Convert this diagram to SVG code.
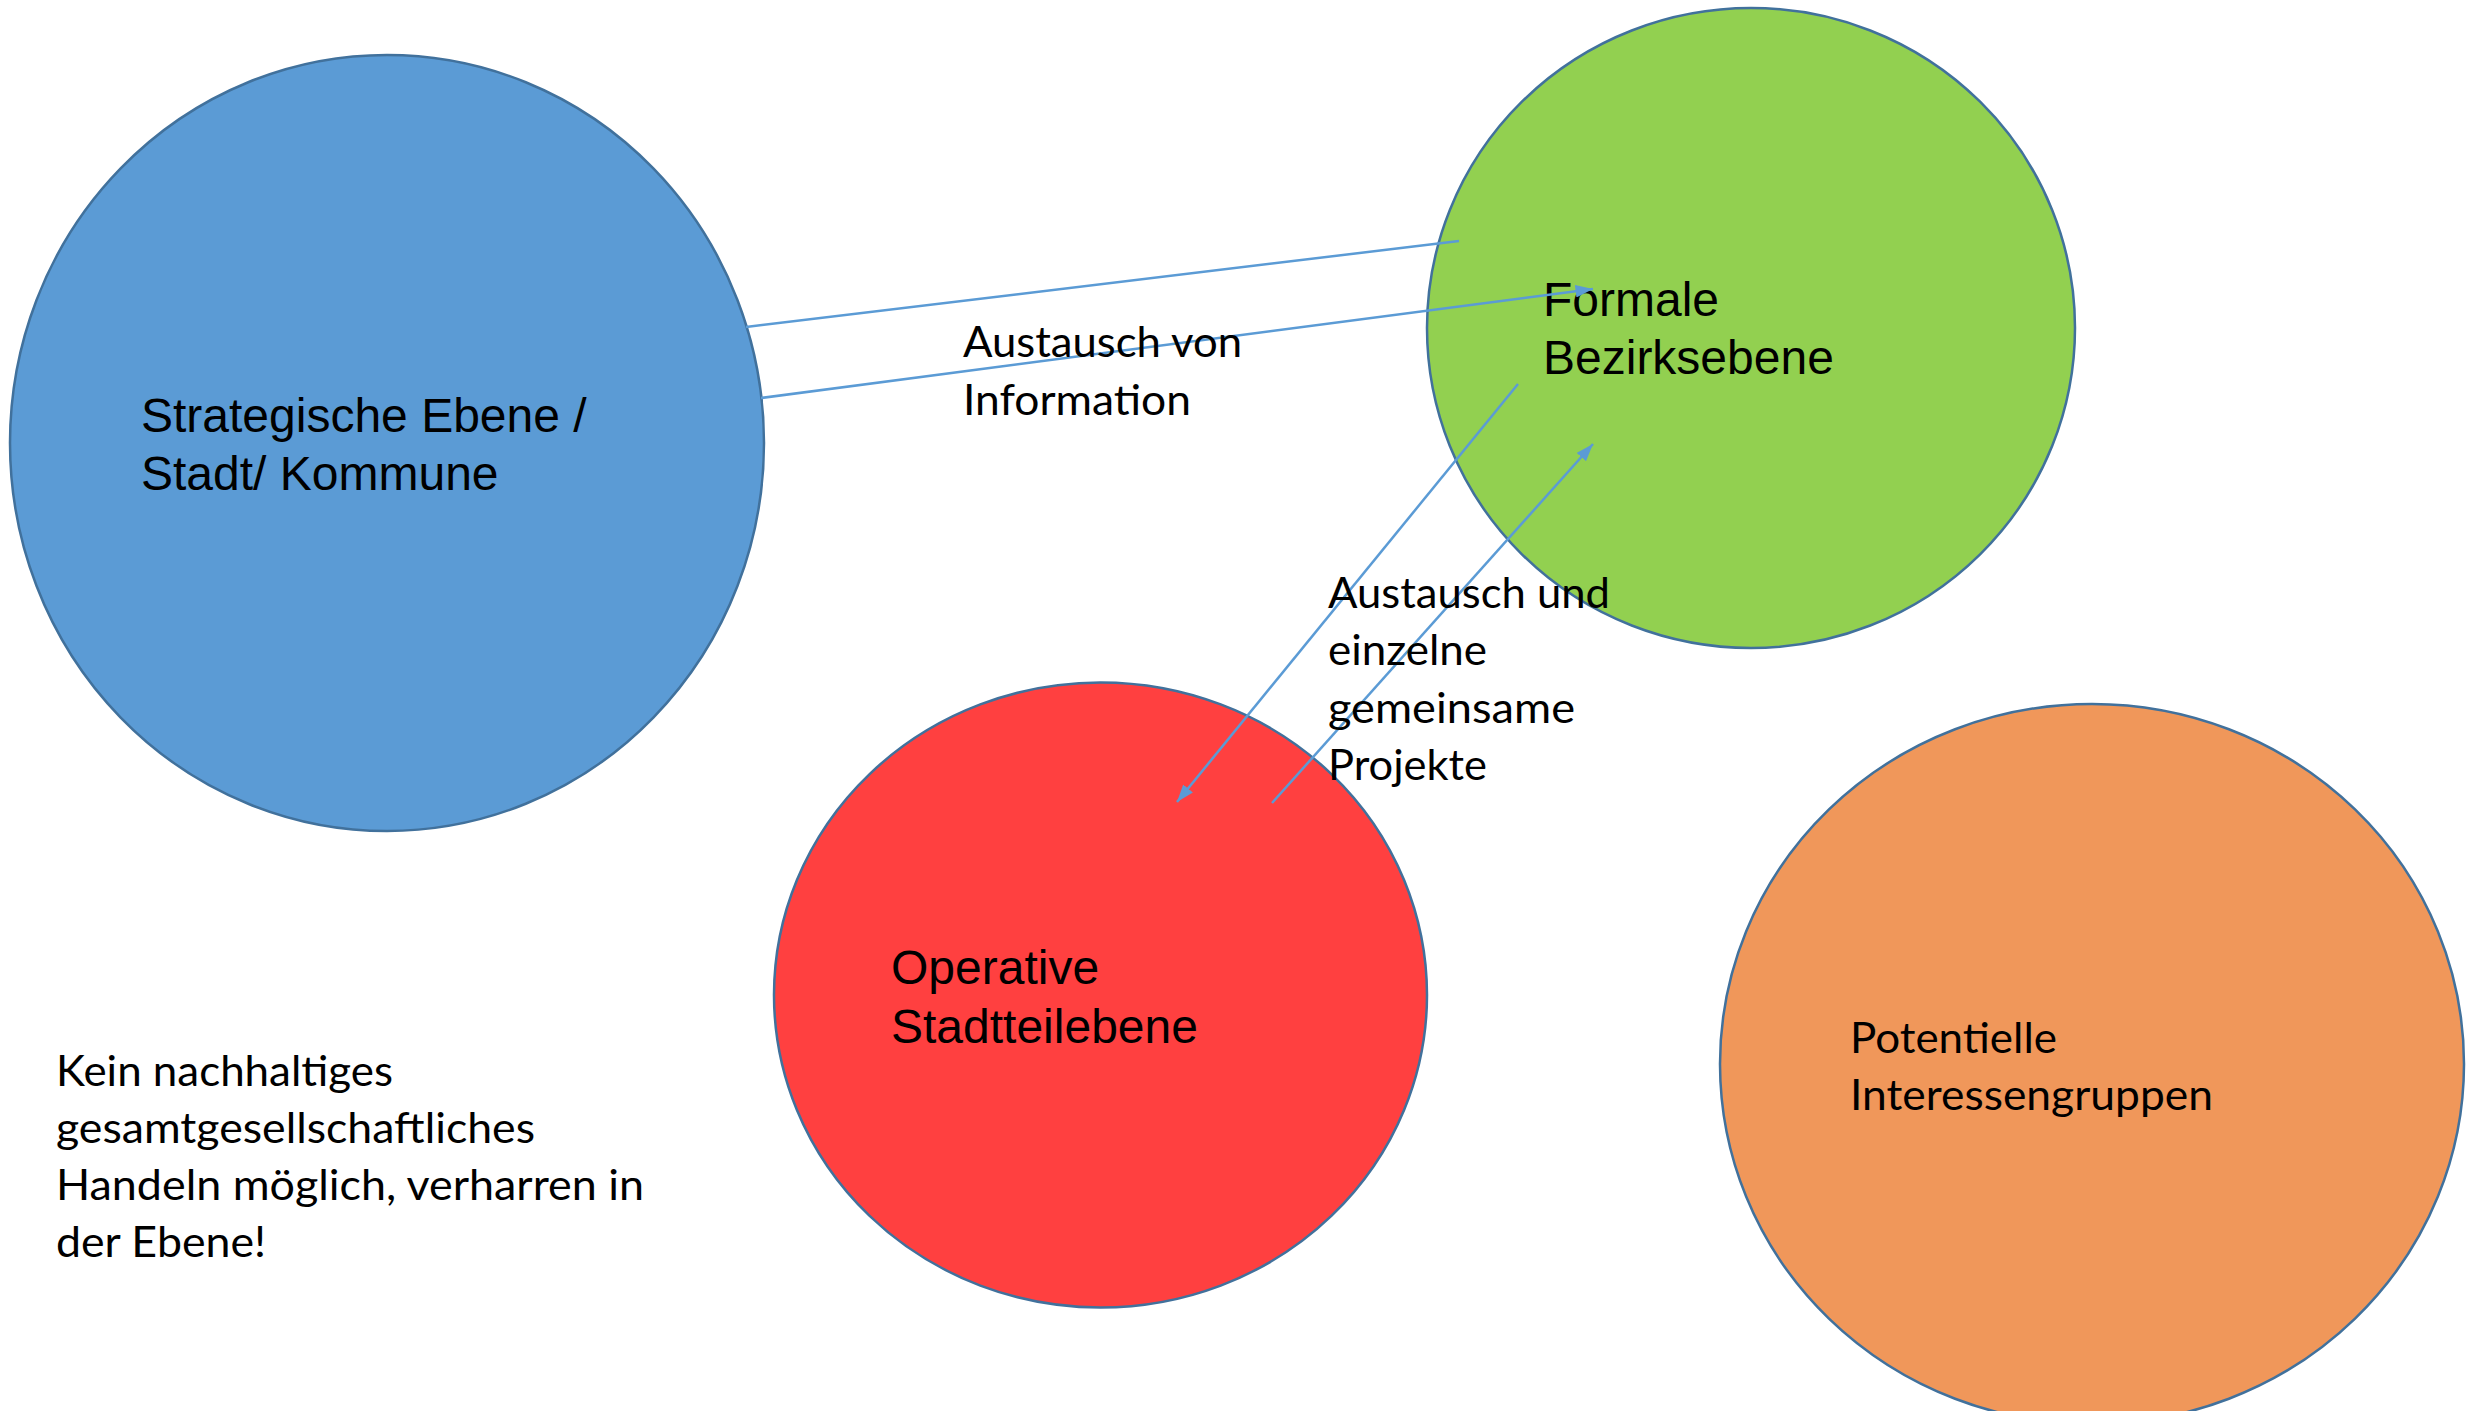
<svg xmlns="http://www.w3.org/2000/svg" width="2484" height="1411" viewBox="0 0 2484 1411">
<style>
.node{stroke:#41719C;stroke-width:2.5}
.arial{font-family:"Liberation Sans",Arial,sans-serif;font-size:48px;fill:#000}
.cal{font-family:Lato,"Open Sans",sans-serif;font-size:42px;fill:#000}
.conn{stroke:#5B9BD5;stroke-width:2.5;fill:none}
</style>
<defs>
<marker id="arr" viewBox="0 0 10 10" refX="10" refY="5" markerWidth="7" markerHeight="5" orient="auto" markerUnits="strokeWidth" preserveAspectRatio="none">
<path d="M0,0 L10,5 L0,10 Z" fill="#5B9BD5"/>
</marker>
</defs>
<rect width="2484" height="1411" fill="#fff"/>
<g id="node-strategisch">
<ellipse class="node" cx="387" cy="443" rx="377" ry="388" fill="#5B9BD5"/>
<text class="arial"><tspan x="141" y="432">Strategische Ebene /</tspan><tspan x="141" y="490">Stadt/ Kommune</tspan></text>
</g>
<g id="node-formal">
<ellipse class="node" cx="1751" cy="328" rx="324" ry="320" fill="#92D050"/>
<text class="arial"><tspan x="1543" y="316">Formale</tspan><tspan x="1543" y="374">Bezirksebene</tspan></text>
</g>
<g id="node-operativ">
<ellipse class="node" cx="1100.5" cy="995" rx="326.5" ry="312.5" fill="#FF4040"/>
<text class="arial"><tspan x="891" y="984">Operative</tspan><tspan x="891" y="1043">Stadtteilebene</tspan></text>
</g>
<g id="node-interessen">
<ellipse class="node" cx="2092" cy="1064" rx="372" ry="360" fill="#F0975A"/>
<text class="cal"><tspan x="1850" y="1053" textLength="207" lengthAdjust="spacingAndGlyphs">Potentielle</tspan><tspan x="1850" y="1110" textLength="363" lengthAdjust="spacingAndGlyphs">Interessengruppen</tspan></text>
</g>
<g id="connectors">
<line class="conn" x1="746" y1="327" x2="1459" y2="241"/>
<line class="conn" x1="761" y1="398" x2="1593" y2="289" marker-end="url(#arr)"/>
<line class="conn" x1="1518" y1="384" x2="1177" y2="802" marker-end="url(#arr)"/>
<line class="conn" x1="1272" y1="803" x2="1593" y2="444" marker-end="url(#arr)"/>
</g>
<g id="labels">
<text class="cal"><tspan x="963" y="357" textLength="279" lengthAdjust="spacingAndGlyphs">Austausch von</tspan><tspan x="963" y="415" textLength="228" lengthAdjust="spacingAndGlyphs">Information</tspan></text>
<text class="cal"><tspan x="1328" y="608" textLength="282" lengthAdjust="spacingAndGlyphs">Austausch und</tspan><tspan x="1328" y="665" textLength="159" lengthAdjust="spacingAndGlyphs">einzelne</tspan><tspan x="1328" y="723" textLength="247" lengthAdjust="spacingAndGlyphs">gemeinsame</tspan><tspan x="1328" y="780" textLength="159" lengthAdjust="spacingAndGlyphs">Projekte</tspan></text>
<text class="cal"><tspan x="56" y="1086" textLength="337" lengthAdjust="spacingAndGlyphs">Kein nachhaltiges</tspan><tspan x="56" y="1143" textLength="479" lengthAdjust="spacingAndGlyphs">gesamtgesellschaftliches</tspan><tspan x="56" y="1200" textLength="588" lengthAdjust="spacingAndGlyphs">Handeln möglich, verharren in</tspan><tspan x="56" y="1257" textLength="210" lengthAdjust="spacingAndGlyphs">der Ebene!</tspan></text>
</g>
</svg>
